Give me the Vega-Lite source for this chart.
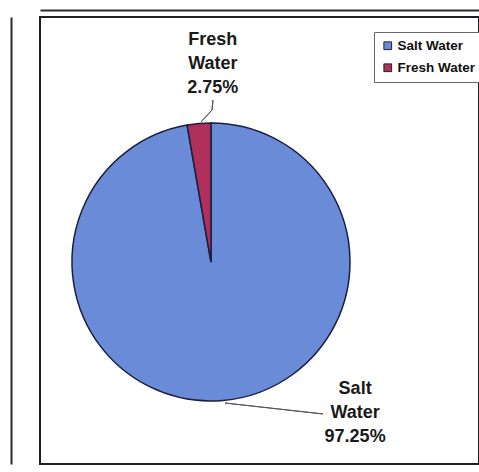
{
  "$schema": "https://vega.github.io/schema/vega-lite/v6.json",
  "width": 439,
  "height": 447,
  "autosize": "none",
  "padding": {"left": 40, "top": 17, "right": 0, "bottom": 8},
  "background": "#ffffff",
  "config": {
    "view": {"stroke": "#1e1e24", "strokeWidth": 2},
    "font": "Liberation Sans"
  },
  "data": {
    "values": [
      {"category": "Salt Water", "value": 97.25, "order": 1},
      {"category": "Fresh Water", "value": 2.75, "order": 2}
    ]
  },
  "transform": [
    {"calculate": "[split(datum.category, ' ')[0], split(datum.category, ' ')[1], format(datum.value, '.2f') + '%']", "as": "label"}
  ],
  "layer": [
    {
      "mark": {"type": "point", "opacity": 0},
      "encoding": {
        "x": {"field": "value", "type": "quantitative", "axis": {"orient": "top", "offset": 7, "domain": true, "domainColor": "#2a2a33", "domainWidth": 2, "ticks": false, "labels": false, "grid": false, "title": null}},
        "y": {"field": "value", "type": "quantitative", "axis": {"orient": "left", "offset": 29, "domain": true, "domainColor": "#2a2a33", "domainWidth": 2, "ticks": false, "labels": false, "grid": false, "title": null}}
      }
    },
    {
      "mark": {"type": "arc", "radius": 139, "x": 171, "y": 245, "stroke": "#1b1f3f", "strokeWidth": 1.5},
      "encoding": {
        "theta": {"field": "value", "type": "quantitative", "stack": true},
        "order": {"field": "order", "type": "quantitative"},
        "color": {
          "field": "category",
          "type": "nominal",
          "scale": {"domain": ["Salt Water", "Fresh Water"], "range": ["#6a8cd8", "#b0305c"]},
          "legend": {
            "orient": "none",
            "legendX": 334,
            "legendY": 15,
            "title": null,
            "strokeColor": "#666666",
            "fillColor": "#ffffff",
            "padding": 7,
            "rowPadding": 7,
            "symbolType": "square",
            "symbolSize": 60,
            "symbolStrokeColor": "#222222",
            "symbolStrokeWidth": 1,
            "labelFont": "Liberation Sans",
            "labelFontWeight": "bold",
            "labelFontSize": 13.5,
            "labelColor": "#111111",
            "labelOffset": 3
          }
        }
      }
    },
    {
      "mark": {"type": "text", "radius": 199, "x": 171, "y": 245, "dx": 19, "dy": -24, "fontSize": 18, "fontWeight": "bold", "lineHeight": 24, "color": "#1a1a1a", "align": "center", "baseline": "middle"},
      "encoding": {
        "theta": {"field": "value", "type": "quantitative", "stack": true},
        "order": {"field": "order", "type": "quantitative"},
        "text": {"condition": {"test": "datum.category === 'Fresh Water'", "field": "label"}, "value": ""}
      }
    },
    {
      "mark": {"type": "text", "radius": 152, "x": 171, "y": 245, "dx": 131, "dy": -24, "fontSize": 18, "fontWeight": "bold", "lineHeight": 24, "color": "#1a1a1a", "align": "center", "baseline": "middle"},
      "encoding": {
        "theta": {"field": "value", "type": "quantitative", "stack": true},
        "order": {"field": "order", "type": "quantitative"},
        "text": {"condition": {"test": "datum.category === 'Salt Water'", "field": "label"}, "value": ""}
      }
    },
    {
      "data": {"values": [{}]},
      "mark": {"type": "arc", "x": 172, "y": 93, "theta": 0.0997, "theta2": 0.1002, "radius": 10, "radius2": 0, "fill": null, "stroke": "#555555", "strokeWidth": 1},
      "encoding": {}
    },
    {
      "data": {"values": [{}]},
      "mark": {"type": "arc", "x": 172, "y": 93, "theta": 3.884, "theta2": 3.8845, "radius": 16.3, "radius2": 0, "fill": null, "stroke": "#555555", "strokeWidth": 1},
      "encoding": {}
    },
    {
      "data": {"values": [{}]},
      "mark": {"type": "arc", "x": 185, "y": 386, "theta": 1.682, "theta2": 1.6825, "radius": 98.6, "radius2": 0, "fill": null, "stroke": "#555555", "strokeWidth": 1},
      "encoding": {}
    }
  ]
}
